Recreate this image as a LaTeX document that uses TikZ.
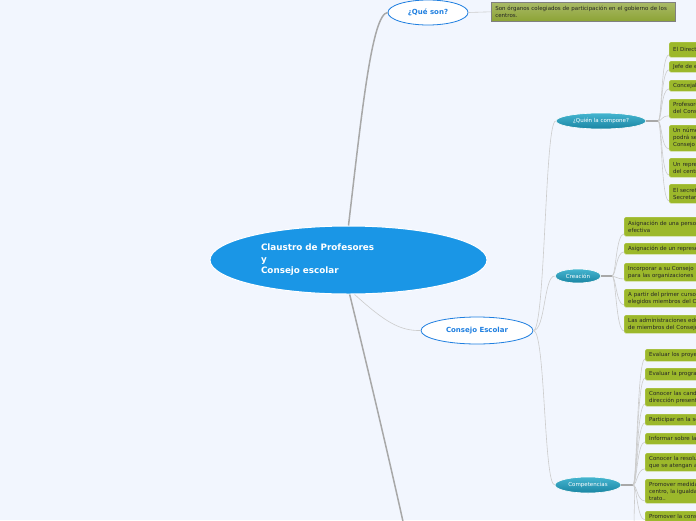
\documentclass[tikz,border=0pt]{standalone}
\usepackage{fontspec}
\setmainfont{DejaVu Sans}
\usetikzlibrary{shapes.geometric,calc}
\definecolor{bg1}{HTML}{F2F6FE}
\definecolor{bl1}{HTML}{1A96E6}
\definecolor{bl2}{HTML}{1F7FE0}
\definecolor{tl1}{HTML}{45B5D0}
\definecolor{tl2}{HTML}{1A85A3}
\definecolor{gn1}{HTML}{9CB82B}
\definecolor{gn2}{HTML}{BCCF68}
\definecolor{gn3}{HTML}{8CA335}
\definecolor{gr1}{gray}{.66}
\definecolor{gr2}{gray}{.80}
\tikzset{trunk/.style={gr1, line width=1.5pt}}
\tikzset{twig/.style={gr2, line width=.6pt}}
\tikzset{leaf/.style={anchor=north west, fill=gn1, draw=gn2, line width=.4pt,
  rounded corners=1.5pt, text width=200pt, align=left, inner xsep=4pt, inner ysep=1pt,
  text=black!85, font=\fontsize{5.5}{7}\selectfont}}
\tikzset{oval/.style={ellipse, fill=white, draw=bl2, line width=.8pt, inner sep=0pt,
  text=bl2, font=\bfseries\fontsize{7}{8}\selectfont}}
\tikzset{pill/.style={ellipse, top color=tl1, bottom color=tl2, draw=white, line width=.6pt,
  inner sep=0pt, text=white, font=\fontsize{5.5}{7}\selectfont}}
\newcommand{\twig}[2]{
	\draw[twig](#1) .. controls +(4,0) and +(-8,0) .. ($(#2.south west)+(0,-2.5)$)
}

\begin{document}
\begin{tikzpicture}[x=1pt, y=-1pt]
    \useasboundingbox (0,0) rectangle (696,520);
    \clip (0,0) rectangle (696,520);
    \fill[bg1] (0,0) rectangle (696,520);

    % main ideas
    \node[ellipse, fill=bl1, draw=white, line width=1pt, minimum width=277pt, minimum height=68pt,
      inner sep=0pt, text width=175pt, align=left, text=white,
      font=\bfseries\fontsize{8.8}{11.5}\selectfont] (root) at (348.5,260)
      {Claustro de Profesores\\y\\Consejo escolar};
    \node[oval, minimum width=80pt, minimum height=25pt] (qson) at (428,12.5) {¿Qué son?};
    \node[oval, minimum width=112pt, minimum height=27pt] (cesc) at (477,330.5) {Consejo Escolar};
    \node[anchor=north west, top color=gn3!75!white, bottom color=gn3, draw=gray, line width=.6pt,
      minimum width=184pt, minimum height=19pt, text width=176pt, inner xsep=4pt, inner ysep=1pt,
      align=left, text=black!85, font=\fontsize{5.5}{7}\selectfont] (def) at (491,2)
      {Son órganos colegiados de participación en el gobierno de los\\centros.};
    \coordinate (down) at (406,535);

    \draw[trunk](root.north) .. controls (362,110) and (372,14) .. (qson.west);
    \draw[trunk](root.272) .. controls (362,345) and (385,440) .. (down);
    \draw[twig](root.-80) .. controls (385,322) and (400,331) .. (cesc.west);
    \draw[twig](qson.east) -- (def.west);

    % Consejo Escolar
    \node[pill, minimum width=90pt, minimum height=16pt] (quien) at (601,121) {¿Quién la compone?};
    \node[pill, minimum width=46pt, minimum height=14pt] (crea) at (578,276) {Creación};
    \node[pill, minimum width=66pt, minimum height=16pt] (comp) at (588,485) {Competencias};
    \foreach \p in {quien, crea, comp}
        \draw[twig](cesc.east) .. controls +(12,0) and +(-11,0) .. (\p.west);

    \coordinate (qj) at (658,121);
    \coordinate (cj) at (612,276);
    \coordinate (mj) at (633,485);
    \coordinate (mdown) at (634,530);
    \draw[trunk](quien.east) -- (qj);
    \draw[trunk](crea.east) -- (cj);
    \draw[trunk](comp.east) -- (mj);

    % ¿Quién la compone?
    \node[leaf, minimum height=15pt] (q1) at (669,42) {El Director};
    \node[leaf, minimum height=11pt] (q2) at (669,61) {Jefe de estudios};
    \node[leaf, minimum height=11pt] (q3) at (669,80) {Concejal};
    \node[leaf, minimum height=19pt] (q4) at (669,99) {Profesores\\del Consejo};
    \node[leaf, minimum height=26pt] (q5) at (669,125) {Un número\\podrá ser\\Consejo};
    \node[leaf, minimum height=19pt] (q6) at (669,158) {Un representante\\del centro};
    \node[leaf, minimum height=19pt] (q7) at (669,184) {El secretario\\Secretario};
    \foreach \l in {q1,q2,q3,q4,q5,q6,q7}
        \twig{qj}{\l};

    % Creación
    \node[leaf, minimum height=19pt] (c1) at (624,217) {Asignación de una persona\\efectiva};
    \node[leaf, minimum height=11pt] (c2) at (624,243) {Asignación de un representante};
    \node[leaf, minimum height=18pt] (c3) at (624,263) {Incorporar a su Consejo\\para las organizaciones};
    \node[leaf, minimum height=18pt] (c4) at (624,289) {A partir del primer curso\\elegidos miembros del Consejo};
    \node[leaf, minimum height=18pt] (c5) at (624,315) {Las administraciones educativas\\de miembros del Consejo};
    \foreach \l in {c1,c2,c3,c4,c5}
        \twig{cj}{\l};

    % Competencias
    \node[leaf, minimum height=12pt] (m1) at (645,349) {Evaluar los proyectos};
    \node[leaf, minimum height=12pt] (m2) at (645,368) {Evaluar la programación};
    \node[leaf, minimum height=18pt] (m3) at (645,388) {Conocer las candidaturas\\dirección presentados};
    \node[leaf, minimum height=11pt] (m4) at (645,414) {Participar en la selección};
    \node[leaf, minimum height=11pt] (m5) at (645,433) {Informar sobre la};
    \node[leaf, minimum height=18pt] (m6) at (645,453) {Conocer la resolución\\que se atengan a};
    \node[leaf, minimum height=24pt] (m7) at (645,479) {Promover medidas\\centro, la igualdad\\trato..};
    \node[leaf, minimum height=11pt] (m8) at (645,511) {Promover la conservación};
    \foreach \l in {m1,m2,m3,m4,m5,m6,m7,m8}
        \twig{mj}{\l};
    \draw[twig](mj) .. controls +(3,0) and +(0,-30) .. (mdown);
\end{tikzpicture}
\end{document}
